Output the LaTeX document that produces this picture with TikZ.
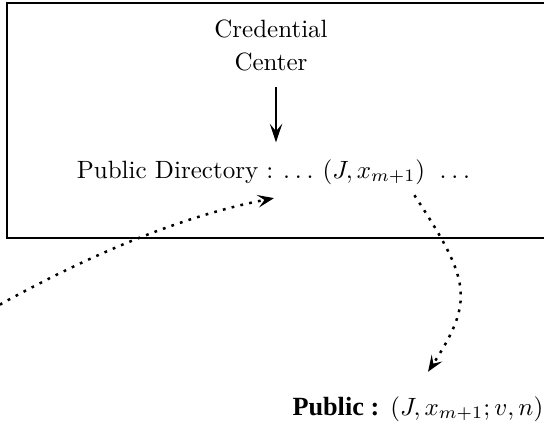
\documentclass[tikz,border=0pt]{standalone}
\usepackage{fontspec}
\newfontfamily\timesfont{Liberation Serif}
\usetikzlibrary{arrows.meta}
\newcommand\wdots{.\kern1.9pt.\kern1.9pt.}
\tikzset{
  frame/.style={line width=0.9pt},
  label/.style={inner sep=3.33pt, font=\fontsize{10}{13.2}\selectfont},
  solidarrow/.style={line width=0.6pt, -{Stealth[length=7.5pt,width=5pt,inset=3pt]}},
  dotarrow/.style={line width=1pt, dash pattern=on 1.1pt off 2.5pt, -{Stealth[length=6.5pt,width=5pt,inset=2.6pt]}},
}
\begin{document}
\begin{tikzpicture}[x=0.4pt,y=-0.4pt]
\useasboundingbox (0,0) rectangle (544,423);
\clip (0,0) rectangle (544,423);
% frame of the credential center area
\draw[frame] (560,3) -- (7,3) -- (7,238) -- (560,238);
% texts
\node[label, align=center, anchor=north] (cc) at (271,11) {Credential\\Center};
\node[label, anchor=base west] (pd) at (68,178) {Public Directory\hspace{3.2pt}:\hspace{4pt}\wdots\hspace{3.6pt}$(J, x_{m+1})$\hspace{5.8pt}\wdots};
\node[label, anchor=base west, inner sep=0pt] (pub) at (292,415) {{\timesfont\bfseries\fontsize{10.5}{12}\selectfont Public :} $(J, x_{m+1}; v, n)$};
% helper coordinates
\coordinate (ax) at (276,0);
\coordinate (e1) at (274,0);
\coordinate (s2) at (413,0);
\coordinate (e2) at (428,0);
\coordinate (src) at (-8,309);
% connectors
\draw[solidarrow, shorten <=2.8pt, shorten >=3.2pt] (cc.south -| ax) -- (pd.north -| ax);
\draw[dotarrow] (src) .. controls (95,251) and (187,215) .. ([yshift=-2pt]pd.south -| e1);
\draw[dotarrow, shorten <=1pt] (pd.south -| s2) .. controls (470,280) and (475,300) .. ([yshift=9.6pt]pub.north -| e2);
\end{tikzpicture}
\end{document}
